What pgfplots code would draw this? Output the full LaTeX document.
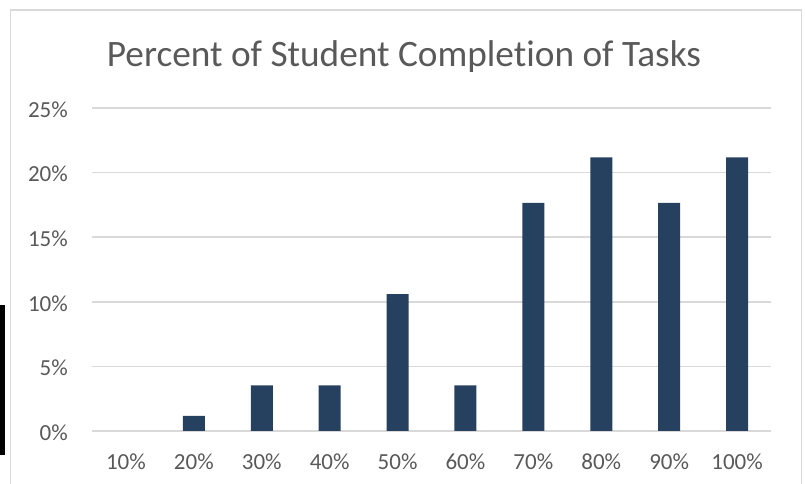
\documentclass[border=0pt]{standalone}
\usepackage{pgfplots}
\pgfplotsset{compat=1.18}
\usepackage{fontspec}
\setmainfont{Carlito}[Ligatures=NoCommon]
\definecolor{barblue}{RGB}{38,64,96}
\definecolor{gridgray}{RGB}{217,217,217}
\definecolor{txtgray}{RGB}{89,89,89}
\begin{document}
\begin{tikzpicture}
\useasboundingbox (0pt,0pt) rectangle (805pt,484pt);
\fill[black] (0pt,29pt) rectangle (5pt,179pt);
\draw[gridgray, line width=1.5pt] (10.5pt,-2pt) -- (10.5pt,474pt) -- (801.5pt,474pt) -- (801.5pt,-2pt);
\node[anchor=base, text=txtgray, font=\fontsize{37.3}{44}\selectfont, inner sep=0pt] at (404pt,417pt) {Percent of Student Completion of Tasks};
\begin{axis}[
  at={(92pt,53pt)}, anchor=south west,
  scale only axis, width=679pt, height=323pt,
  xmin=-0.5, xmax=9.5, ymin=0, ymax=25,
  axis line style={draw=none},
  major tick length=0pt,
  ytick={0,5,10,15,20,25},
  yticklabels={0\%,5\%,10\%,15\%,20\%,25\%},
  xtick={0,...,9},
  xticklabels={10\%,20\%,30\%,40\%,50\%,60\%,70\%,80\%,90\%,100\%},
  ymajorgrids,
  grid style={gridgray, line width=1.5pt},
  tick label style={text=txtgray, font=\fontsize{23}{27}\selectfont, inner sep=0pt},
  yticklabel style={anchor=east, xshift=-24pt, yshift=-1.5pt},
  xticklabel style={anchor=base, yshift=-39pt},
  clip=false,
]
\addplot[ybar, bar width=22pt, fill=barblue, draw=none] coordinates {
  (1,1.18) (2,3.53) (3,3.53) (4,10.59) (5,3.53) (6,17.65) (7,21.18) (8,17.65) (9,21.18)
};
\end{axis}
\end{tikzpicture}
\end{document}
